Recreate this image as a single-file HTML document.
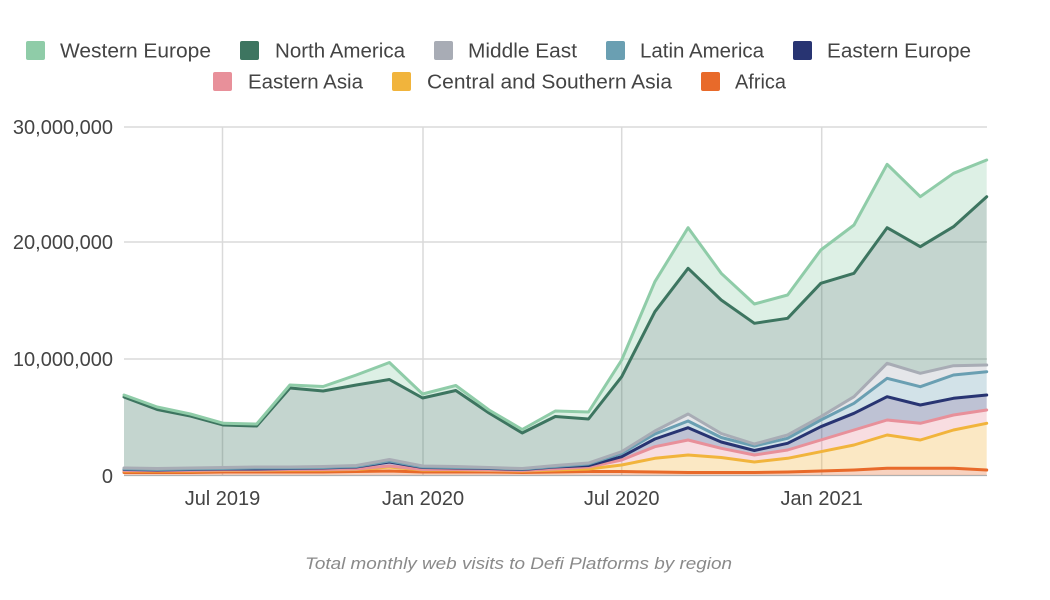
<!DOCTYPE html>
<html><head><meta charset="utf-8"><style>
html,body{margin:0;padding:0;background:#fff;}
svg{display:block;}
text{font-family:"Liberation Sans",Arial,sans-serif;}
</style></head><body>
<svg width="1050" height="600" viewBox="0 0 1050 600" xmlns="http://www.w3.org/2000/svg">
<!-- legend -->
<g font-size="20.5" fill="#444">
<rect x="26" y="41" width="19" height="19" rx="2" fill="#8fcca8"/>
<text x="60" y="57.5" textLength="151" lengthAdjust="spacingAndGlyphs">Western Europe</text>
<rect x="240" y="41" width="19" height="19" rx="2" fill="#3d7560"/>
<text x="275" y="57.5" textLength="130" lengthAdjust="spacingAndGlyphs">North America</text>
<rect x="434" y="41" width="19" height="19" rx="2" fill="#a8acb5"/>
<text x="468" y="57.5" textLength="109" lengthAdjust="spacingAndGlyphs">Middle East</text>
<rect x="606" y="41" width="19" height="19" rx="2" fill="#6a9fb2"/>
<text x="640" y="57.5" textLength="124" lengthAdjust="spacingAndGlyphs">Latin America</text>
<rect x="793" y="41" width="19" height="19" rx="2" fill="#283472"/>
<text x="827" y="57.5" textLength="144" lengthAdjust="spacingAndGlyphs">Eastern Europe</text>
<rect x="213" y="72" width="19" height="19" rx="2" fill="#e8909a"/>
<text x="248" y="88.5" textLength="115" lengthAdjust="spacingAndGlyphs">Eastern Asia</text>
<rect x="392" y="72" width="19" height="19" rx="2" fill="#f1b43c"/>
<text x="427" y="88.5" textLength="245" lengthAdjust="spacingAndGlyphs">Central and Southern Asia</text>
<rect x="701" y="72" width="19" height="19" rx="2" fill="#e86a2a"/>
<text x="735" y="88.5" textLength="51" lengthAdjust="spacingAndGlyphs">Africa</text>
</g>
<!-- gridlines -->
<g stroke="#dadada" stroke-width="1.5" fill="none">
<line x1="124" y1="127" x2="987" y2="127"/>
<line x1="124" y1="242" x2="987" y2="242"/>
<line x1="124" y1="359" x2="987" y2="359"/>
<line x1="222.5" y1="127" x2="222.5" y2="475"/>
<line x1="423" y1="127" x2="423" y2="475"/>
<line x1="621.7" y1="127" x2="621.7" y2="475"/>
<line x1="821.7" y1="127" x2="821.7" y2="475"/>
</g>
<line x1="124" y1="475.5" x2="987" y2="475.5" stroke="#b0b0b0" stroke-width="1.2"/>
<!-- y labels -->
<g font-size="20" fill="#444" text-anchor="end">
<text x="113" y="134">30,000,000</text>
<text x="113" y="249">20,000,000</text>
<text x="113" y="366">10,000,000</text>
<text x="113" y="483">0</text>
</g>
<!-- x labels -->
<g font-size="20" fill="#444" text-anchor="middle">
<text x="222.5" y="505">Jul 2019</text>
<text x="423" y="505">Jan 2020</text>
<text x="621.7" y="505">Jul 2020</text>
<text x="821.7" y="505">Jan 2021</text>
</g>
<!-- areas -->
<g fill-opacity="0.3" stroke="none">
<polygon fill="#e86a2a" points="124,472.5 157.2,472.5 190.4,472.5 223.5,472 256.7,472 289.9,472 323.1,472 356.3,471.5 389.4,471 422.6,472 455.8,472 489,472 522.2,472.5 555.3,472 588.5,471.5 621.7,471.5 654.9,472 688.1,472.5 721.2,472.5 754.4,472.5 787.6,472 820.8,471 854,470 887.1,468.3 920.3,468.3 953.5,468.3 986.7,470 986.7,475 124,475"/>
<polygon fill="#f1b43c" points="124,471 157.2,471 190.4,471 223.5,470.5 256.7,470.5 289.9,470 323.1,470 356.3,469.5 389.4,467 422.6,470 455.8,470 489,470.5 522.2,471 555.3,470 588.5,469 621.7,465 654.9,458.3 688.1,455 721.2,457.5 754.4,462 787.6,458.3 820.8,451.7 854,445 887.1,435 920.3,440 953.5,430 986.7,423.3 986.7,470 953.5,468.3 920.3,468.3 887.1,468.3 854,470 820.8,471 787.6,472 754.4,472.5 721.2,472.5 688.1,472.5 654.9,472 621.7,471.5 588.5,471.5 555.3,472 522.2,472.5 489,472 455.8,472 422.6,472 389.4,471 356.3,471.5 323.1,472 289.9,472 256.7,472 223.5,472 190.4,472.5 157.2,472.5 124,472.5"/>
<polygon fill="#e8909a" points="124,470.5 157.2,470.5 190.4,470.5 223.5,470 256.7,470 289.9,469.5 323.1,469.5 356.3,469 389.4,466 422.6,469.5 455.8,469.5 489,470 522.2,470.5 555.3,469 588.5,467 621.7,460 654.9,446.7 688.1,440 721.2,448.3 754.4,455 787.6,450 820.8,440 854,430 887.1,420 920.3,423.3 953.5,415 986.7,410 986.7,423.3 953.5,430 920.3,440 887.1,435 854,445 820.8,451.7 787.6,458.3 754.4,462 721.2,457.5 688.1,455 654.9,458.3 621.7,465 588.5,469 555.3,470 522.2,471 489,470.5 455.8,470 422.6,470 389.4,467 356.3,469.5 323.1,470 289.9,470 256.7,470.5 223.5,470.5 190.4,471 157.2,471 124,471"/>
<polygon fill="#283472" points="124,469.5 157.2,470 190.4,469.5 223.5,469 256.7,469 289.9,468.5 323.1,468 356.3,467 389.4,462 422.6,467.5 455.8,468 489,468.5 522.2,469.5 555.3,467 588.5,465.5 621.7,456.7 654.9,439 688.1,427.7 721.2,442 754.4,450.5 787.6,443.3 820.8,426.7 854,413.3 887.1,396.7 920.3,405 953.5,398.3 986.7,395 986.7,410 953.5,415 920.3,423.3 887.1,420 854,430 820.8,440 787.6,450 754.4,455 721.2,448.3 688.1,440 654.9,446.7 621.7,460 588.5,467 555.3,469 522.2,470.5 489,470 455.8,469.5 422.6,469.5 389.4,466 356.3,469 323.1,469.5 289.9,469.5 256.7,470 223.5,470 190.4,470.5 157.2,470.5 124,470.5"/>
<polygon fill="#6a9fb2" points="124,469 157.2,469.5 190.4,469 223.5,468.5 256.7,468 289.9,468 323.1,467.5 356.3,466.5 389.4,461 422.6,467 455.8,467.5 489,468 522.2,469 555.3,466.5 588.5,464 621.7,453.3 654.9,434 688.1,421 721.2,437.5 754.4,446 787.6,438.3 820.8,420 854,403.3 887.1,378.3 920.3,386.7 953.5,375 986.7,371.7 986.7,395 953.5,398.3 920.3,405 887.1,396.7 854,413.3 820.8,426.7 787.6,443.3 754.4,450.5 721.2,442 688.1,427.7 654.9,439 621.7,456.7 588.5,465.5 555.3,467 522.2,469.5 489,468.5 455.8,468 422.6,467.5 389.4,462 356.3,467 323.1,468 289.9,468.5 256.7,469 223.5,469 190.4,469.5 157.2,470 124,469.5"/>
<polygon fill="#a8acb5" points="124,468 157.2,468.5 190.4,468 223.5,467.5 256.7,467 289.9,467 323.1,466.5 356.3,465.5 389.4,459.5 422.6,466 455.8,466.5 489,467.5 522.2,468.5 555.3,465.5 588.5,463 621.7,451.7 654.9,431 688.1,414 721.2,433.5 754.4,444 787.6,435 820.8,416.7 854,396.7 887.1,363.3 920.3,373.3 953.5,365.7 986.7,365 986.7,371.7 953.5,375 920.3,386.7 887.1,378.3 854,403.3 820.8,420 787.6,438.3 754.4,446 721.2,437.5 688.1,421 654.9,434 621.7,453.3 588.5,464 555.3,466.5 522.2,469 489,468 455.8,467.5 422.6,467 389.4,461 356.3,466.5 323.1,467.5 289.9,468 256.7,468 223.5,468.5 190.4,469 157.2,469.5 124,469"/>
<polygon fill="#3d7560" points="124,397 157.2,409.5 190.4,416 223.5,425 256.7,426 289.9,388 323.1,391 356.3,385 389.4,379.5 422.6,398 455.8,390.5 489,413 522.2,433 555.3,416.5 588.5,419 621.7,376.7 654.9,311.7 688.1,268.3 721.2,300 754.4,323.3 787.6,318.3 820.8,283.3 854,273.3 887.1,227.7 920.3,246.7 953.5,226.7 986.7,196.7 986.7,365 953.5,365.7 920.3,373.3 887.1,363.3 854,396.7 820.8,416.7 787.6,435 754.4,444 721.2,433.5 688.1,414 654.9,431 621.7,451.7 588.5,463 555.3,465.5 522.2,468.5 489,467.5 455.8,466.5 422.6,466 389.4,459.5 356.3,465.5 323.1,466.5 289.9,467 256.7,467 223.5,467.5 190.4,468 157.2,468.5 124,468"/>
<polygon fill="#8fcca8" points="124,395 157.2,407 190.4,414 223.5,423.3 256.7,424 289.9,385 323.1,386.5 356.3,375 389.4,362.5 422.6,394 455.8,385.5 489,410 522.2,429.5 555.3,411 588.5,412 621.7,360 654.9,281.7 688.1,227.7 721.2,273.3 754.4,304 787.6,295 820.8,250 854,225 887.1,164.3 920.3,196.7 953.5,173.3 986.7,160 986.7,196.7 953.5,226.7 920.3,246.7 887.1,227.7 854,273.3 820.8,283.3 787.6,318.3 754.4,323.3 721.2,300 688.1,268.3 654.9,311.7 621.7,376.7 588.5,419 555.3,416.5 522.2,433 489,413 455.8,390.5 422.6,398 389.4,379.5 356.3,385 323.1,391 289.9,388 256.7,426 223.5,425 190.4,416 157.2,409.5 124,397"/>
</g>
<!-- lines -->
<g fill="none" stroke-width="3" stroke-linejoin="round" stroke-linecap="round">
<polyline stroke="#e86a2a" points="124,472.5 157.2,472.5 190.4,472.5 223.5,472 256.7,472 289.9,472 323.1,472 356.3,471.5 389.4,471 422.6,472 455.8,472 489,472 522.2,472.5 555.3,472 588.5,471.5 621.7,471.5 654.9,472 688.1,472.5 721.2,472.5 754.4,472.5 787.6,472 820.8,471 854,470 887.1,468.3 920.3,468.3 953.5,468.3 986.7,470"/>
<polyline stroke="#f1b43c" points="124,471 157.2,471 190.4,471 223.5,470.5 256.7,470.5 289.9,470 323.1,470 356.3,469.5 389.4,467 422.6,470 455.8,470 489,470.5 522.2,471 555.3,470 588.5,469 621.7,465 654.9,458.3 688.1,455 721.2,457.5 754.4,462 787.6,458.3 820.8,451.7 854,445 887.1,435 920.3,440 953.5,430 986.7,423.3"/>
<polyline stroke="#e8909a" points="124,470.5 157.2,470.5 190.4,470.5 223.5,470 256.7,470 289.9,469.5 323.1,469.5 356.3,469 389.4,466 422.6,469.5 455.8,469.5 489,470 522.2,470.5 555.3,469 588.5,467 621.7,460 654.9,446.7 688.1,440 721.2,448.3 754.4,455 787.6,450 820.8,440 854,430 887.1,420 920.3,423.3 953.5,415 986.7,410"/>
<polyline stroke="#283472" points="124,469.5 157.2,470 190.4,469.5 223.5,469 256.7,469 289.9,468.5 323.1,468 356.3,467 389.4,462 422.6,467.5 455.8,468 489,468.5 522.2,469.5 555.3,467 588.5,465.5 621.7,456.7 654.9,439 688.1,427.7 721.2,442 754.4,450.5 787.6,443.3 820.8,426.7 854,413.3 887.1,396.7 920.3,405 953.5,398.3 986.7,395"/>
<polyline stroke="#6a9fb2" points="124,469 157.2,469.5 190.4,469 223.5,468.5 256.7,468 289.9,468 323.1,467.5 356.3,466.5 389.4,461 422.6,467 455.8,467.5 489,468 522.2,469 555.3,466.5 588.5,464 621.7,453.3 654.9,434 688.1,421 721.2,437.5 754.4,446 787.6,438.3 820.8,420 854,403.3 887.1,378.3 920.3,386.7 953.5,375 986.7,371.7"/>
<polyline stroke="#a8acb5" points="124,468 157.2,468.5 190.4,468 223.5,467.5 256.7,467 289.9,467 323.1,466.5 356.3,465.5 389.4,459.5 422.6,466 455.8,466.5 489,467.5 522.2,468.5 555.3,465.5 588.5,463 621.7,451.7 654.9,431 688.1,414 721.2,433.5 754.4,444 787.6,435 820.8,416.7 854,396.7 887.1,363.3 920.3,373.3 953.5,365.7 986.7,365"/>
<polyline stroke="#3d7560" points="124,397 157.2,409.5 190.4,416 223.5,425 256.7,426 289.9,388 323.1,391 356.3,385 389.4,379.5 422.6,398 455.8,390.5 489,413 522.2,433 555.3,416.5 588.5,419 621.7,376.7 654.9,311.7 688.1,268.3 721.2,300 754.4,323.3 787.6,318.3 820.8,283.3 854,273.3 887.1,227.7 920.3,246.7 953.5,226.7 986.7,196.7"/>
<polyline stroke="#8fcca8" points="124,395 157.2,407 190.4,414 223.5,423.3 256.7,424 289.9,385 323.1,386.5 356.3,375 389.4,362.5 422.6,394 455.8,385.5 489,410 522.2,429.5 555.3,411 588.5,412 621.7,360 654.9,281.7 688.1,227.7 721.2,273.3 754.4,304 787.6,295 820.8,250 854,225 887.1,164.3 920.3,196.7 953.5,173.3 986.7,160"/>
</g>
<!-- caption -->
<text x="518.5" y="569" font-size="17" font-style="italic" fill="#8a8a8a" text-anchor="middle" textLength="427" lengthAdjust="spacingAndGlyphs">Total monthly web visits to Defi Platforms by region</text>
</svg>
</body></html>
